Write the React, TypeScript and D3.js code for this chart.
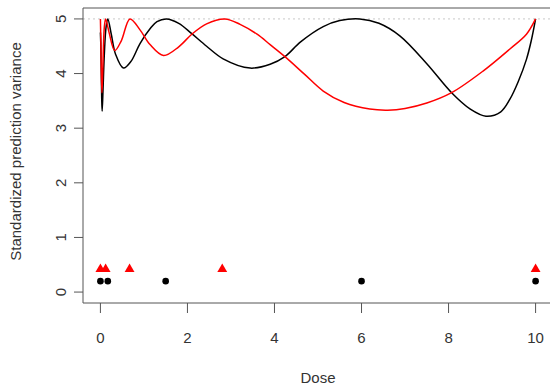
import React from 'react'
import { scaleLinear, line, curveCatmullRom, symbol, symbolTriangle } from 'd3'

const blackDose = [0, 0.01, 0.02, 0.03, 0.04, 0.06, 0.09, 0.13, 0.17, 0.25, 0.35, 0.53, 0.7, 0.91, 1.14, 1.3, 1.52, 1.8, 2.1, 2.44, 2.82, 3.44, 3.9, 4.24, 4.6, 5.12, 5.5, 5.96, 6.4, 6.88, 7.5, 8.07, 8.5, 8.86, 9.2, 9.41, 9.6, 9.79, 9.9, 10]
const blackSpv = [4.75, 4.5, 4.0, 3.55, 3.31, 3.7, 4.35, 4.85, 5.0, 4.72, 4.35, 4.1, 4.22, 4.55, 4.82, 4.95, 5.0, 4.92, 4.73, 4.5, 4.27, 4.1, 4.17, 4.31, 4.58, 4.86, 4.97, 5.0, 4.92, 4.69, 4.18, 3.65, 3.35, 3.22, 3.3, 3.53, 3.85, 4.26, 4.6, 5.0]

const redDose = [0, 0.01, 0.02, 0.035, 0.05, 0.07, 0.09, 0.12, 0.2, 0.33, 0.48, 0.68, 0.91, 1.14, 1.45, 1.8, 2.1, 2.44, 2.86, 3.21, 3.6, 3.9, 4.24, 4.7, 5.12, 5.6, 6.19, 6.6, 7.0, 7.5, 8.07, 8.8, 9.41, 9.79, 10]
const redSpv = [5.0, 4.6, 4.1, 3.65, 3.95, 4.5, 4.85, 5.0, 4.75, 4.42, 4.6, 5.0, 4.8, 4.53, 4.33, 4.49, 4.72, 4.91, 5.0, 4.9, 4.72, 4.53, 4.31, 3.98, 3.68, 3.47, 3.35, 3.33, 3.36, 3.46, 3.65, 4.05, 4.45, 4.72, 5.0]

// design points
const designA = [0, 0.17, 1.5, 6, 10]
const designB = [0, 0.12, 0.67, 2.8, 10]

const xTicks = [0, 2, 4, 6, 8, 10]
const yTicks = [0, 1, 2, 3, 4, 5]

const W = 550
const H = 386
const font = '"Liberation Sans", Arial, sans-serif'
const ink = '#333'

const App = () => {
    const box = { l: 83, t: 8, r: 553, b: 303 }
    const x = scaleLinear().domain([-0.4, 10.4]).range([box.l, box.r])
    const y = scaleLinear().domain([-0.2, 5.2]).range([box.b, box.t])

    const path = line<number[]>().x(d => x(d[0])).y(d => y(d[1])).curve(curveCatmullRom.alpha(0.5))
    const blackPts = blackDose.map((d, i) => [d, blackSpv[i]])
    const redPts = redDose.map((d, i) => [d, redSpv[i]])
    const tri = symbol().type(symbolTriangle).size(42)()

    return (
        <svg width={W} height={H} style={{ position: 'absolute', left: 0, top: 0, background: '#fff' }}>
            <line x1={box.l} x2={W} y1={y(5)} y2={y(5)} stroke='#c8c8c8' strokeDasharray='2,3' />
            <path d={path(blackPts) || ''} fill='none' stroke='#000' strokeWidth='1.5' />
            <path d={path(redPts) || ''} fill='none' stroke='#ff0000' strokeWidth='1.5' />
            {designA.map((d, i) => <circle key={'a' + i} cx={x(d)} cy={y(0.2)} r={3.3} fill='#000' />)}
            {designB.map((d, i) => <path key={'b' + i} d={tri || ''} transform={`translate(${x(d)},${y(0.42)})`} fill='#ff0000' />)}

            {/* box, open on the clipped right side */}
            <path d={`M${W},${box.t}H${box.l}V${box.b}H${W}`} fill='none' stroke='#555' />

            {xTicks.map(t => (
                <g key={'x' + t}>
                    <line x1={x(t)} x2={x(t)} y1={box.b} y2={box.b + 10} stroke='#555' />
                    <text x={x(t)} y={337} textAnchor='middle' dominantBaseline='central' fontFamily={font} fontSize='15' fill={ink}>{t}</text>
                </g>
            ))}
            {yTicks.map(t => (
                <g key={'y' + t}>
                    <line x1={box.l - 9} x2={box.l} y1={y(t)} y2={y(t)} stroke='#555' />
                    <text transform={`translate(60,${y(t)}) rotate(-90)`} textAnchor='middle' dominantBaseline='central' fontFamily={font} fontSize='15' fill={ink}>{t}</text>
                </g>
            ))}
            <text x={318} y={377} textAnchor='middle' dominantBaseline='central' fontFamily={font} fontSize='15' fill={ink}>Dose</text>
            <text transform={`translate(15,${(box.t + box.b) / 2 - 4}) rotate(-90)`} textAnchor='middle' dominantBaseline='central' fontFamily={font} fontSize='15' fill={ink}>Standardized prediction variance</text>
        </svg>
    )
}

export default App
